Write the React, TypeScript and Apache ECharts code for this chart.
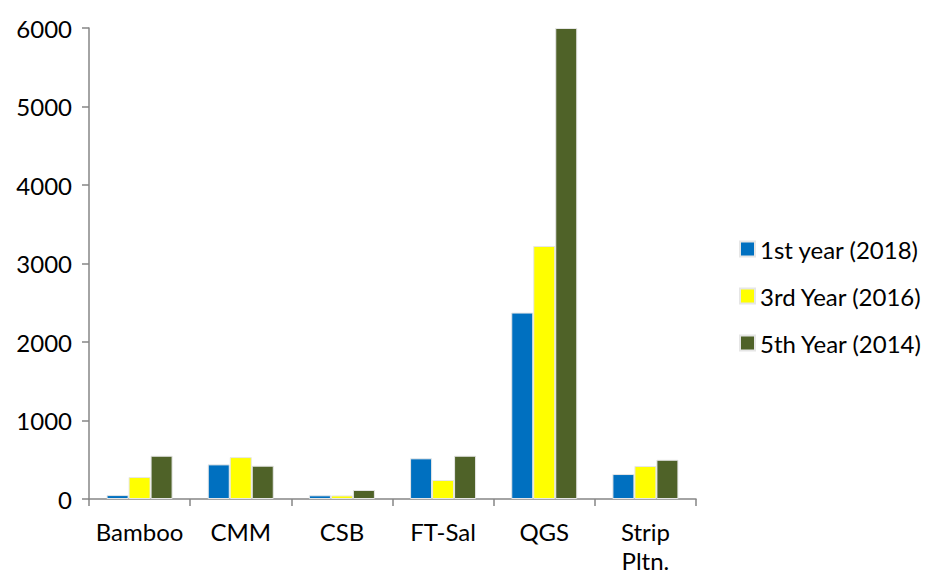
import React, { useEffect, useRef } from "react";
import * as echarts from "echarts";

const categories = ["Bamboo", "CMM", "CSB", "FT-Sal", "QGS", "Strip\nPltn."];
const seriesNames = ["1st year (2018)", "3rd Year (2016)", "5th Year (2014)"];
const year1 = [50, 441, 47, 518, 2375, 318];
const year3 = [280, 534, 45, 242, 3223, 420];
const year5 = [551, 424, 115, 551, 6000, 500];
const colors = ["#0070C0", "#FFFF00", "#4F6228"];
const yTicks = { min: 0, max: 6000, interval: 1000 };

export default function App() {
  const ref = useRef<HTMLDivElement>(null);
  useEffect(() => {
    if (!ref.current) return;
    const chart = echarts.init(ref.current, undefined, { renderer: "svg" });
    const font = "Lato, 'Open Sans', sans-serif";
    const values = [year1, year3, year5];
    chart.setOption({
      animation: false,
      textStyle: { fontFamily: font },
      grid: { left: 89, right: 232, top: 28, bottom: 75, outerBoundsMode: "none", containLabel: false },
      legend: {
        orient: "vertical",
        left: 739,
        top: 237,
        padding: 0,
        itemWidth: 15,
        itemHeight: 15,
        itemGap: 23,
        icon: "rect",
        textStyle: { fontSize: 24, color: "#000", fontFamily: font },
        data: seriesNames,
      },
      xAxis: {
        type: "category",
        data: categories,
        axisLine: { lineStyle: { color: "#868686", width: 1.5 } },
        axisTick: { show: true, length: 7, lineStyle: { color: "#868686", width: 1.5 } },
        axisLabel: {
          interval: 0,
          fontSize: 24,
          color: "#000",
          margin: 18,
          lineHeight: 29,
          fontFamily: font,
        },
      },
      yAxis: {
        type: "value",
        min: yTicks.min,
        max: yTicks.max,
        interval: yTicks.interval,
        axisLine: { show: true, lineStyle: { color: "#868686", width: 1.5 } },
        axisTick: { show: true, length: 7, lineStyle: { color: "#868686", width: 1.5 } },
        splitLine: { show: false },
        axisLabel: {
          fontSize: 24,
          color: "#000",
          margin: 17,
          fontFamily: font,
          formatter: (v: number) => String(v),
        },
      },
      series: seriesNames.map((name, i) => ({
        name,
        type: "bar",
        data: values[i],
        barWidth: 22,
        barGap: "0%",
        itemStyle: { color: colors[i], borderColor: "#e6e6e6", borderWidth: 1 },
      })),
    });
    return () => chart.dispose();
  }, []);
  return (
    <div
      ref={ref}
      style={{ position: "fixed", left: 0, top: 0, width: 928, height: 574, background: "#fff" }}
    />
  );
}
